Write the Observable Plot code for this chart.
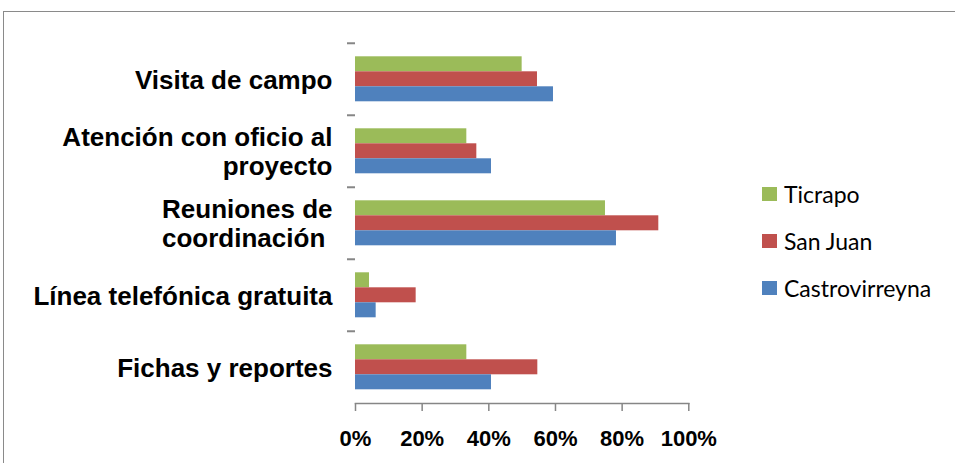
<!DOCTYPE html>
<html><head><meta charset="utf-8">
<script src="https://cdn.jsdelivr.net/npm/d3@7"></script>
<script src="https://cdn.jsdelivr.net/npm/@observablehq/plot@0.6"></script>
<style>
body{margin:0;background:#fff;overflow:hidden}
#wrap{position:relative;width:955px;height:463px;overflow:hidden}
#border{position:absolute;left:3px;top:11px;width:1000px;height:500px;border:1.5px solid #8a8a8a;box-sizing:border-box}
#chart{position:absolute;left:0;top:0}
#legend{position:absolute;left:762px;top:170px;font-family:Lato,'Open Sans',sans-serif;font-size:23px;color:#000}
.item{display:flex;align-items:center;height:47px}
.sw{width:15px;height:14px;margin-right:7px}
</style></head><body><div id="wrap"><div id="border"></div><div id="chart"></div><div id="legend"></div></div>
<script>
const categories = ["Visita de campo","Atención con oficio al proyecto","Reuniones de coordinación","Línea telefónica gratuita","Fichas y reportes"];
const categoryLabels = ["Visita de campo","Atención con oficio al\nproyecto","Reuniones de\ncoordinación ","Línea telefónica gratuita","Fichas y reportes"];
const series = ["Ticrapo","San Juan","Castrovirreyna"];
const colors = ["#9BBB59","#C0504D","#4F81BD"];
const ticrapo = [50, 33.4, 75, 4.2, 33.4];
const sanJuan = [54.6, 36.4, 91, 18.2, 54.7];
const castrovirreyna = [59.4, 40.8, 78.3, 6.2, 40.8];
const xTicks = [0, 20, 40, 60, 80, 100];

const seriesValues = [ticrapo, sanJuan, castrovirreyna];
const data = [];
categories.forEach((c, i) => series.forEach((s, j) => data.push({category: c, series: s, value: seriesValues[j][i]})));
const labelOf = new Map(categories.map((c, i) => [c, categoryLabels[i]]));

const W = 955, H = 463, mt = 41.7, mb = 59, ml = 355, mr = 266.7;
const bandH = (H - mt - mb) / categories.length;

const chart = Plot.plot({
  width: W, height: H,
  marginTop: mt, marginBottom: mb, marginLeft: ml, marginRight: mr,
  style: {fontFamily: "'Liberation Sans', Arial, sans-serif", color: "#000", background: "transparent"},
  x: {domain: [0, 100]},
  fy: {domain: categories, padding: 0},
  y: {domain: series, paddingInner: 0, paddingOuter: 0.75, axis: null},
  color: {domain: series, range: colors},
  marks: [
    Plot.barX(data, {fy: "category", y: "series", x: "value", fill: "series"}),
    Plot.axisFy({anchor: "left", tickSize: 0, tickPadding: 23, tickFormat: d => labelOf.get(d), fontSize: 26, fontWeight: "bold", lineHeight: 1.12, fill: "#000", label: null}),
    Plot.axisFy({anchor: "left", tickSize: 8, tickFormat: () => "", stroke: "#868686", strokeWidth: 2, dy: -bandH / 2, label: null}),
    Plot.frame({anchor: "bottom", stroke: "#868686", strokeWidth: 1.5, facetAnchor: "bottom"}),
    Plot.axisX({ticks: xTicks, tickFormat: d => d + "%", tickSize: 8, tickPadding: 19, fontSize: 22, fontWeight: "bold", stroke: "#868686", strokeWidth: 1.5, fill: "#000", label: null})
  ]
});
document.getElementById("chart").appendChild(chart);

const legend = document.getElementById("legend");
series.forEach((s, j) => {
  const it = document.createElement("div"); it.className = "item";
  const sw = document.createElement("span"); sw.className = "sw"; sw.style.background = colors[j];
  const t = document.createElement("span"); t.textContent = s;
  it.appendChild(sw); it.appendChild(t); legend.appendChild(it);
});
</script></body></html>
